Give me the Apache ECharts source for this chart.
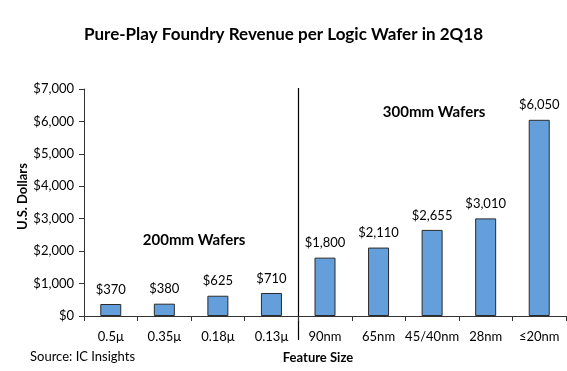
<!DOCTYPE html>
<html><head><meta charset="utf-8">
<script src="https://cdn.jsdelivr.net/npm/echarts@6/dist/echarts.min.js"></script>
<style>html,body{margin:0;padding:0;background:#fff}#c{width:567px;height:371px}</style>
</head><body><div id="c"></div>
<script>
const categories = ['0.5\u03bc','0.35\u03bc','0.18\u03bc','0.13\u03bc','90nm','65nm','45/40nm','28nm','\u226420nm'];
const values = [370,380,625,710,1800,2110,2655,3010,6050];
const yTicks = [0,1000,2000,3000,4000,5000,6000,7000];
const FONT = 'Lato';
const chart = echarts.init(document.getElementById('c'), null, {renderer:'canvas'});
const fmt = v => '$' + Number(v).toLocaleString('en-US');
chart.setOption({
  animation:false,
  textStyle:{fontFamily:FONT},
  title:{text:'Pure-Play Foundry Revenue per Logic Wafer in 2Q18',left:'center',top:21,
    textStyle:{fontFamily:FONT,fontSize:17,fontWeight:'bold',color:'#000'}},
  grid:{left:84,right:1,top:89,bottom:55},
  xAxis:{type:'category',data:categories,
    name:'Feature Size',nameLocation:'middle',nameGap:35,
    nameTextStyle:{fontFamily:FONT,fontSize:13,fontWeight:'bold',color:'#000',padding:[0,14,0,0]},
    axisLine:{lineStyle:{color:'#333',width:1}},
    axisTick:{show:true,length:5,lineStyle:{color:'#333'}},
    axisLabel:{interval:0,fontFamily:FONT,fontSize:13,color:'#000',margin:14}},
  yAxis:{type:'value',min:yTicks[0],max:yTicks[yTicks.length-1],interval:1000,
    axisLine:{show:true,lineStyle:{color:'#333',width:1}},
    axisTick:{show:true,length:5,lineStyle:{color:'#333'}},
    splitLine:{show:false},
    axisLabel:{fontFamily:FONT,fontSize:13,color:'#000',margin:10,formatter:fmt}},
  series:[{type:'bar',data:values,barWidth:21,
    itemStyle:{color:'#649fdb',borderColor:'#2b2b2b',borderWidth:1},
    label:{show:true,position:'top',distance:8,fontFamily:FONT,fontSize:13,color:'#000',formatter:p=>fmt(p.value)}}]
});
function addExtras(){
  const x1 = chart.convertToPixel({xAxisIndex:0}, categories[3]);
  const x2 = chart.convertToPixel({xAxisIndex:0}, categories[4]);
  const xm = Math.round((x1+x2)/2)+0.5;
  const yTop = chart.convertToPixel({yAxisIndex:0}, yTicks[yTicks.length-1]) - 1;
  const yBot = chart.convertToPixel({yAxisIndex:0}, 0) + 24;
  const yMid = chart.convertToPixel({yAxisIndex:0}, 3500);
  const xa = chart.convertToPixel({xAxisIndex:0}, categories[1]);
  const xb = chart.convertToPixel({xAxisIndex:0}, categories[2]);
  const x6 = chart.convertToPixel({xAxisIndex:0}, categories[6]);
  const y200 = chart.convertToPixel({yAxisIndex:0}, 2350);
  const y300 = chart.convertToPixel({yAxisIndex:0}, 6300);
  chart.setOption({graphic:[
    {type:'line',shape:{x1:xm,y1:yTop,x2:xm,y2:yBot},style:{stroke:'#000',lineWidth:1.2}},
    {type:'text',x:(xa+xb)/2+3,y:y200,style:{text:'200mm Wafers',fontFamily:FONT,fontSize:15,fontWeight:'bold',fill:'#000',textAlign:'center',textVerticalAlign:'middle'}},
    {type:'text',x:x6+2,y:y300,style:{text:'300mm Wafers',fontFamily:FONT,fontSize:15,fontWeight:'bold',fill:'#000',textAlign:'center',textVerticalAlign:'middle'}},
    {type:'text',x:23,y:yMid-6,rotation:Math.PI/2,style:{text:'U.S. Dollars',fontFamily:FONT,fontSize:13,fontWeight:'bold',fill:'#000',textAlign:'center',textVerticalAlign:'middle'}},
    {type:'text',left:30,top:350,style:{text:'Source: IC Insights',fontFamily:FONT,fontSize:13,fill:'#000'}}
  ]});
}
addExtras();
</script></body></html>
